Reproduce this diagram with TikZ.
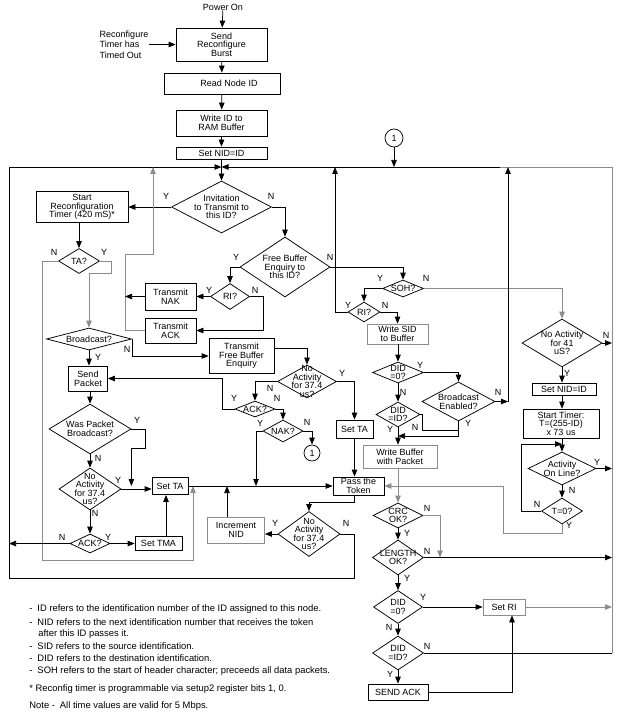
\documentclass[tikz,border=0pt]{standalone}
\usepackage{fontspec}
\setmainfont{Liberation Sans}
\usetikzlibrary{shapes.geometric,arrows.meta}
\definecolor{lgray}{RGB}{140,140,140}
\newcommand{\chf}{\fontsize{9}{8.6}\selectfont}
\newcommand{\mydia}[5]{\node[dia, minimum width=#3pt, minimum height=#4pt] (#1) at (#2) {};\node[dtext] (#1t) at (#1.center) {#5};}
\newcommand{\mybox}[5]{\node[box, minimum width=#3pt, minimum height=#4pt] (#1) at (#2) {#5};}
\begin{document}
\begin{tikzpicture}[x=1pt,y=-1pt, line width=0.75pt, >={Triangle[length=7pt,width=5.5pt]},
 box/.style={draw, rectangle, inner sep=0pt, align=center, font=\chf},
 dia/.style={draw, diamond, inner sep=0pt},
 dtext/.style={align=center, font=\chf, inner sep=0pt},
 lab/.style={font=\chf, inner sep=0pt},
 note/.style={font=\fontsize{9.4}{10}\selectfont, inner sep=0pt, anchor=west},
 gl/.style={draw=lgray}]
\fill[white] (0,0) rectangle (620,719);
\useasboundingbox (0,0) rectangle (620,719);
% ---------- nodes ----------
\node[lab] (pwr) at (223,7) {Power On};
\node[lab, align=left, font=\fontsize{9}{10.5}\selectfont] (rto) at (124,44.5) {Reconfigure\\Timer has\\Timed Out};
\mybox{send}{221.5,44.5}{91}{33}{Send\\Reconfigure\\Burst}
\node[box, minimum width=116pt, minimum height=21pt] (read) at (222,83.5) {\hspace{14pt}Read Node ID};
\mybox{wrid}{221.5,123}{91}{26}{Write ID to\\RAM Buffer}
\mybox{setnid}{221.5,153}{91}{12}{Set NID=ID}
\node[draw, circle, minimum size=18pt, inner sep=0pt, font=\chf] (c1t) at (394,138) {1};
\mydia{inv}{221.5,207}{100}{52}{Invitation\\to Transmit to\\this ID?}
\mybox{start}{82,207}{92}{31}{Start\\Reconfiguration\\Timer (420 mS)*}
\mydia{ta}{79,261}{41}{25}{TA?}
\mydia{bc}{89,339}{85}{22}{Broadcast?}
\mydia{fb}{285,267}{90}{60}{Free Buffer\\Enquiry to\\this ID?}
\mydia{ri1}{230,296.5}{39}{26}{RI?}
\mybox{tnak}{170.5,296.5}{51}{27}{Transmit\\NAK}
\mybox{tack}{170.5,330.5}{51}{25}{Transmit\\ACK}
\mybox{tfbe}{241.5,356}{65}{35}{Transmit\\Free Buffer\\Enquiry}
\mydia{na1}{307,381.5}{59}{33}{No\\Activity\\for 37.4\\us?}
\mydia{ackm}{255,409}{40}{16}{ACK?}
\mydia{nakm}{283,431}{40}{22}{NAK?}
\node[draw, circle, minimum size=16pt, inner sep=0pt, font=\chf] (c1b) at (312,453) {1};
\mybox{settam}{354.5,429}{37}{18}{Set TA}
\mybox{pass}{358.5,486}{51}{18}{Pass the\\Token}
\mybox{sendpkt}{88,378.5}{39}{25}{Send\\Packet}
\mydia{wpb}{90,429}{82}{50}{Was Packet\\Broadcast?}
\mydia{na2}{90,489}{62}{42}{No\\Activity\\for 37.4\\us?}
\mybox{settal}{170,486}{36}{17}{Set TA}
\mydia{ackl}{90,543.5}{40}{19}{ACK?}
\mybox{settma}{158.5,543}{47}{14}{Set TMA}
\node[box, draw=lgray, minimum width=57pt, minimum height=26pt] (incnid) at (236,530) {Increment\\NID};
\mydia{na3}{309,534}{62}{45}{No\\Activity\\for 37.4\\us?}
\mydia{soh}{403,288.5}{41}{17}{SOH?}
\mydia{ri2}{364,312}{32}{20}{RI?}
\node[box, draw=lgray, minimum width=61pt, minimum height=20pt] (wsid) at (397.5,334) {Write SID\\to Buffer};
\mydia{didA}{398,372.5}{51}{21}{DID\\=0?}
\mydia{bce}{458.5,401.5}{73}{39}{Broadcast\\Enabled?}
\mydia{didB}{398,414.5}{44}{25}{DID\\=ID?}
\node[box, draw=lgray, minimum width=74pt, minimum height=23pt] (wbuf) at (400,456.5) {Write Buffer\\with Packet};
\mydia{crc}{398,515.5}{50}{25}{CRC\\OK?}
\mydia{len}{398,557.5}{51}{35}{LENGTH\\OK?}
\mydia{didC}{398,607}{49}{33}{DID\\=0?}
\mydia{didD}{398,653}{51}{34}{DID\\=ID?}
\mybox{sendack}{398,692}{60}{16}{SEND ACK}
\node[box, draw=lgray, minimum width=42pt, minimum height=16pt] (setri) at (504,607) {Set RI};
\mydia{na41}{562,343}{80}{48}{No Activity\\for 41\\uS?}
\mybox{setnidr}{564,389}{64}{12}{Set NID=ID}
\mybox{stimer}{561,423.5}{76}{29}{Start Timer:\\T=(255-ID)\\x 73 us}
\mydia{act}{562,468.5}{68}{33}{Activity\\On Line?}
\mydia{tz}{562,511}{41}{26}{T=0?}
% ---------- coordinates ----------
\coordinate (TL) at (9,167);
\coordinate (TR) at (612,167);
\coordinate (J) at (221.5,167);
\coordinate (BL) at (9,578);
\coordinate (RB) at (612,653);
\coordinate (BY) at (398,436);
% ---------- connectors ----------
\draw[->] (pwr) -- (send);
\draw[->] (rto.east |- send.west) -- (send.west);
\draw[->] (send) -- (read);
\draw[->] (read) -- (wrid);
\draw[->] (wrid) -- (setnid);
\draw[->] (setnid.south) -- (inv.north);
\draw[->] (na3.east) -| (354,578) -- (BL) -- (TL) -- (J);
\draw[gl] (RB) -- (TR) -- (500,167);
\draw[->] (500,167) -- (J);
\draw[->] (c1t) -- (c1t |- TR);
\draw[->] (inv.west) -- (start.east);
\draw[->] (inv.east) -| (fb.north);
\draw[->] (ta.north |- start.south) -- (ta.north);
\draw[gl,->] (ta.east) -- ++(11,0) -- ++(0,12) -| (bc.north);
\draw[gl,->] (ta.west) -- (42,261) -- (42,560) -- (193,560) -- (193,486);
\draw[->] (bc.south) -- (bc.south |- sendpkt.north);
\draw[->] (bc.east) |- (tfbe.west);
\draw[->] ([yshift=8pt]tfbe.east) -| (na1.north);
\draw[->] (na1.east) -| (settam.north);
\draw[->] (settam.south) -- (settam.south |- pass.north);
\draw[->] (na1.west) -| (ackm.north);
\draw[->] (ackm.west) -- ++(-12,0) |- (sendpkt.east);
\draw[->] (ackm.east) -| (nakm.north);
\draw[->] (nakm.east) -| (c1b.north);
\draw[->] (nakm.west) -| (256,486);
\draw[->] (settal.east) -- (pass.west);
\draw[->] (na2.east) -- (na2.east -| settal.west);
\draw[->] (wpb.east) -- ++(14,0) -- ++(0,19) -- ++(-14,0) -- (wpb.east |- settal.center);
\draw[->] (sendpkt.south -| wpb.north) -- (wpb.north);
\draw[->] (wpb.south) -- (na2.north);
\draw[->] (na2.south) -- (ackl.north);
\draw[->] (ackl.east) -- (ackl.east -| settma.west);
\draw[->] (ackl.west) -- (ackl.west -| TL);
\draw[->] ([xshift=7.5pt]settma.north) -- ([xshift=-4pt]settal.south);
\draw[->] ([xshift=-4.5pt]pass.south) -- ++(0,7) -| (na3.north);
\draw[->] (na3.west) -- (na3.west -| incnid.east);
\draw[->] ([xshift=-9pt]incnid.north) -- ([xshift=-9pt]incnid.north |- settal.east);
\draw[gl,->] (tack.west) -- (125,330.5) -- (125,254) -- (153,254) -- (153,167);
\draw[->] (tnak.west) -- (125,296.5);
\draw[->] (ri1.west) -- (tnak.east);
\draw[->] (ri1.east) -- ++(13,0) |- (tack.east);
\draw[->] (fb.west) -| (ri1.north);
\draw[->] (fb.east) -| (soh.north);
\draw[->] (soh.west) -| (ri2.north);
\draw[gl,->] (soh.east) -| (na41.north);
\draw[->] (ri2.west) -- (335,312) -- (335,167);
\draw[->] (ri2.east) -| (wsid.north);
\draw[->] (wsid.south -| didA.north) -- (didA.north);
\draw[->] (didA.east) -| (bce.north);
\draw[->] (didA.south) -- (didB.north);
\draw[->] (bce.east) -- (508,401.5);
\draw[->] (508,401.5) -- (508,167);
\draw[->] (bce.south) |- (BY);
\draw (didB.east) -- ++(2,0) -- ++(0,15.5) -- (458.5,430);
\draw[->] (didB.south) -- (wbuf.north -| didB.south);
\draw[gl,->] (wbuf.south -| crc.north) -- (crc.north);
\draw[->] (crc.south) -- (len.north);
\draw[gl,->] (crc.east) -| (440,557.5);
\draw[->] (len.east) -- (612,557.5);
\draw[->] (len.south) -- (didC.north);
\draw[->] (didC.east) -- (setri.west);
\draw[->] (didC.south) -- (didD.north);
\draw[->] (didD.south) -- (sendack.north);
\draw (didD.east) -- (RB);
\draw[gl,->] (setri.east) -- (612,607);
\draw[->] (sendack.east) -| ([xshift=8pt]setri.south);
\draw[->] (na41.east) -- (612,343);
\draw[->] (na41.south) -- (na41.south |- setnidr.north);
\draw[->] (na41.south |- setnidr.south) -- (na41.south |- stimer.north);
\draw[->] (stimer.south -| act.north) -- (act.north);
\draw[->] (act.east) -- (612,468.5);
\draw[->] (act.south) -- (tz.north);
\draw[->] (tz.west) -- (521,511) -- (521,444) -- (562,444);
\draw[gl,->] (tz.south) -- ++(0,9) -| (503,486) -- (pass.east);
% ---------- Y / N labels ----------
\node[lab] (l1) at (166,196) {Y};
\node[lab] (l2) at (271,196) {N};
\node[lab] (l3) at (54,252) {N};
\node[lab] (l4) at (104,252) {Y};
\node[lab] (l5) at (127,349) {N};
\node[lab] (l6) at (98,357) {Y};
\node[lab] (l7) at (236,257) {Y};
\node[lab] (l8) at (330,257) {N};
\node[lab] (l9) at (209,290) {Y};
\node[lab] (l10) at (255,290) {N};
\node[lab] (l11) at (342,373) {Y};
\node[lab] (l12) at (270,388) {N};
\node[lab] (l13) at (234,398) {Y};
\node[lab] (l14) at (277,398) {N};
\node[lab] (l15) at (260,423) {Y};
\node[lab] (l16) at (307,422) {N};
\node[lab] (l17) at (137,420) {Y};
\node[lab] (l18) at (98,458) {N};
\node[lab] (l19) at (118,480) {Y};
\node[lab] (l20) at (95,513) {N};
\node[lab] (l21) at (62,537) {N};
\node[lab] (l22) at (108,537) {Y};
\node[lab] (l23) at (275,523) {Y};
\node[lab] (l24) at (346,523) {N};
\node[lab] (l25) at (380,278) {Y};
\node[lab] (l26) at (426,278) {N};
\node[lab] (l27) at (348,305) {Y};
\node[lab] (l28) at (385,305) {N};
\node[lab] (l29) at (420,365) {Y};
\node[lab] (l30) at (403,392) {N};
\node[lab] (l31) at (498,392) {N};
\node[lab] (l32) at (468,423) {Y};
\node[lab] (l33) at (390,429) {Y};
\node[lab] (l34) at (415,427) {N};
\node[lab] (l35) at (427,508) {N};
\node[lab] (l36) at (407,533) {Y};
\node[lab] (l37) at (427,551) {N};
\node[lab] (l38) at (407,578) {Y};
\node[lab] (l39) at (423,597) {Y};
\node[lab] (l40) at (389,627) {N};
\node[lab] (l41) at (427,646) {N};
\node[lab] (l42) at (390,674) {Y};
\node[lab] (l43) at (606,335) {N};
\node[lab] (l44) at (567,373) {Y};
\node[lab] (l45) at (597,462) {Y};
\node[lab] (l46) at (572,490) {N};
\node[lab] (l47) at (537,504) {N};
\node[lab] (l48) at (569,525) {Y};
% ---------- notes ----------
\node[note] (n1) at (29,609) {-\hspace{5pt}ID refers to the identification number of the ID assigned to this node.};
\node[note] (n2) at (29,622) {-\hspace{5pt}NID refers to the next identification number that receives the token};
\node[note] (n3) at (38,634) {after this ID passes it.};
\node[note] (n4) at (29,646) {-\hspace{5pt}SID refers to the source identification.};
\node[note] (n5) at (29,658) {-\hspace{5pt}DID refers to the destination identification.};
\node[note] (n6) at (29,671) {-\hspace{5pt}SOH refers to the start of header character; preceeds all data packets.};
\node[note] (n7) at (29,689) {* Reconfig timer is programmable via setup2 register bits 1, 0.};
\node[note] (n8) at (29,706) {Note -\hspace{5pt}All time values are valid for 5 Mbps.};
\end{tikzpicture}
\end{document}
